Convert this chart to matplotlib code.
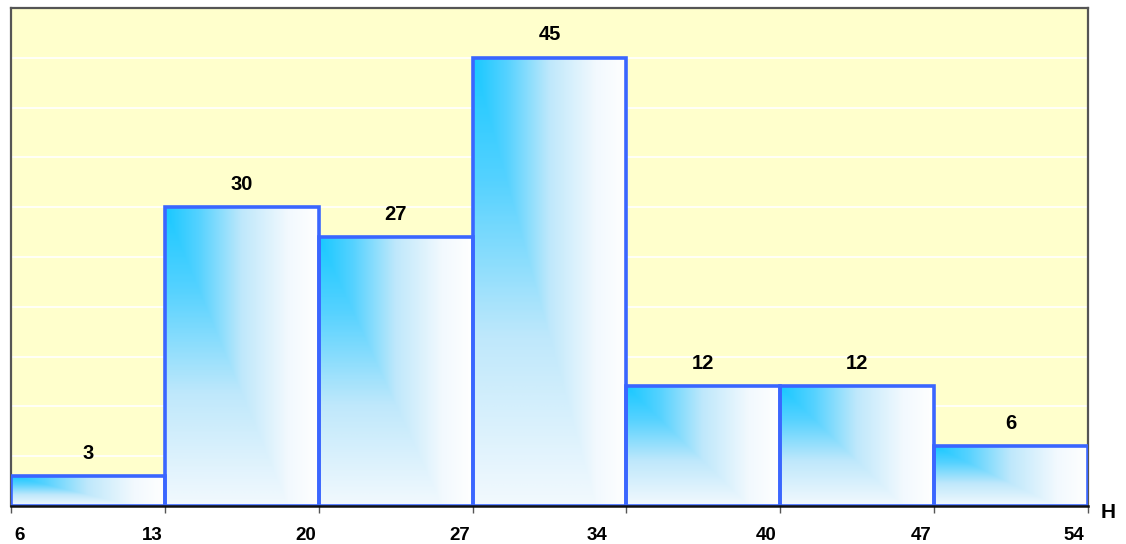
import numpy as np
import matplotlib
matplotlib.use("Agg")
import matplotlib.pyplot as plt
from matplotlib.colors import LinearSegmentedColormap
from matplotlib.patches import Rectangle

# Histogram of H: class boundaries and frequencies
bin_edges = [6, 13, 20, 27, 34, 40, 47, 54]
frequencies = [3, 30, 27, 45, 12, 12, 6]
axis_name = "H"

plt.rcParams['font.family'] = ['Liberation Sans', 'DejaVu Sans']

fig = plt.figure(figsize=(11.26, 5.44), dpi=100)
ax = fig.add_axes([11 / 1126, 38 / 544, 1077 / 1126, 498 / 544])

ax.set_facecolor('#ffffcc')
ax.set_xlim(0, len(frequencies))
ax.set_ylim(0, 50)

# white horizontal gridlines every 5 units
for yv in np.arange(5, 50, 5):
    ax.axhline(yv, color='white', lw=1.2, zorder=1)

# cyan -> white corner gradient used inside each bar
cmap = LinearSegmentedColormap.from_list(
    'barfill',
    [(0.0, '#18c8ff'), (0.22, '#55d2ff'), (0.5, '#bfe8fb'),
     (0.8, '#f2f9fe'), (1.0, '#ffffff')])
n = 256
u = np.linspace(0, 1, n)[None, :]
d = np.linspace(0, 1, n)[:, None]
grad = np.maximum(u, 0.8 * d)

edge_color = '#3a66ff'
for i, h in enumerate(frequencies):
    rect = Rectangle((i, 0), 1, h, facecolor='none', edgecolor=edge_color,
                     lw=2.6, zorder=4, joinstyle='miter')
    ax.add_patch(rect)
    im = ax.imshow(grad, cmap=cmap, vmin=0, vmax=1, extent=(i, i + 1, 0, h),
                   origin='upper', aspect='auto', zorder=3,
                   interpolation='bilinear')
    im.set_clip_path(Rectangle((i, 0), 1, h, transform=ax.transData))
    ax.annotate(str(h), (i + 0.5, h), xytext=(0, 16.5), textcoords='offset points',
                ha='center', va='center', fontsize=14.5, fontweight='bold', zorder=5)

# frame
for side in ('top', 'left', 'right'):
    ax.spines[side].set_color('#555555')
    ax.spines[side].set_linewidth(1.6)
ax.spines['bottom'].set_color('#111111')
ax.spines['bottom'].set_linewidth(1.8)
ax.spines['bottom'].set_zorder(6)

ax.set_yticks([])
ax.set_xticks(range(len(bin_edges)))
ax.set_xticklabels([])
ax.tick_params(axis='x', direction='out', length=5, width=1, color='#555555')

# boundary labels sit slightly left of their ticks
nudges = [9, -13, -13, -13, -29, -14, -13, -14]
for i, (edge, dx) in enumerate(zip(bin_edges, nudges)):
    ax.annotate(str(edge), (i, 0), xytext=(dx * 0.72, -21), textcoords='offset points',
                ha='center', va='center', fontsize=13.5, fontweight='bold',
                annotation_clip=False)

ax.annotate(axis_name, (1, 0), xycoords='axes fraction', xytext=(14.5, -4.5),
            textcoords='offset points', ha='center', va='center',
            fontsize=15, fontweight='bold', annotation_clip=False)

fig.savefig('out.png', dpi=100)
